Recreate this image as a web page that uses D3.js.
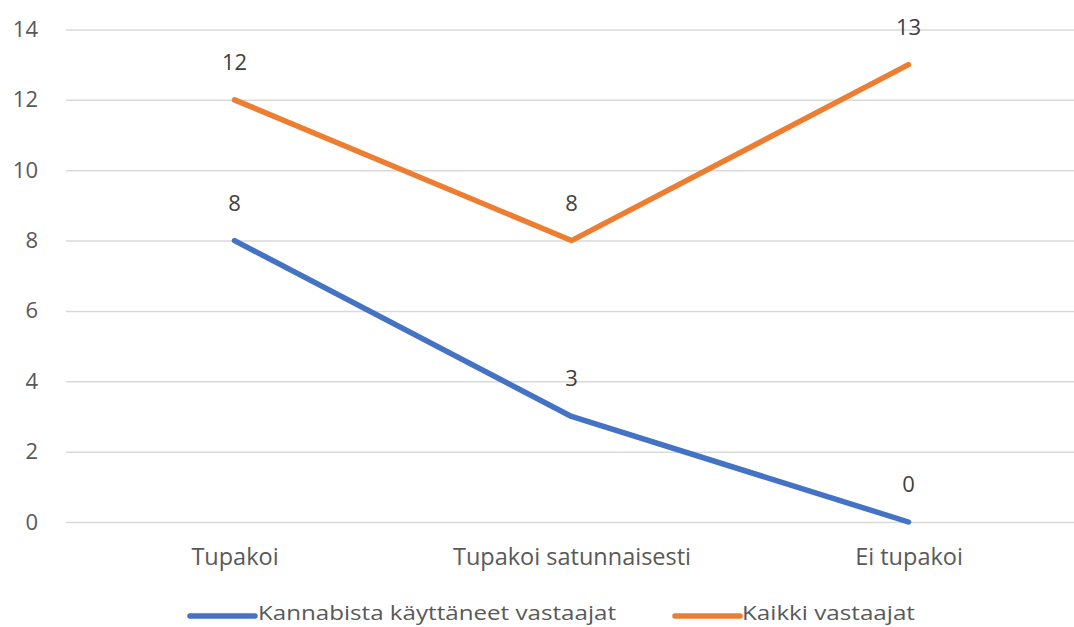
<!DOCTYPE html>
<html><head><meta charset="utf-8">
<script src="https://cdn.jsdelivr.net/npm/d3@7"></script>
<style>body{margin:0;background:#fff;overflow:hidden}</style>
</head><body>
<svg id="c" width="1074" height="627"></svg>
<script>
const categories = ["Tupakoi", "Tupakoi satunnaisesti", "Ei tupakoi"];
const seriesNames = ["Kannabista käyttäneet vastaajat", "Kaikki vastaajat"];
const cannabisValues = [8, 3, 0];
const allValues = [12, 8, 13];
const yTicks = [0, 2, 4, 6, 8, 10, 12, 14];
const colors = ["#4472C4", "#ED7D31"];

(function () {
const svg = d3.select("#c");
const mLeft = 66, mRight = 1077, mTop = 29.5, mBottom = 522;
const font = "'Open Sans', 'Noto Sans', sans-serif";
const textColor = "#595959";

const x = d3.scalePoint().domain(categories).range([mLeft, mRight]).padding(0.5);
const y = d3.scaleLinear().domain([0, 14]).range([mBottom, mTop]);

const yAxis = d3.axisLeft(y).tickValues(yTicks).tickSize(-(1074 - mLeft)).tickPadding(28);
const gy = svg.append("g").attr("transform", `translate(${mLeft},0)`).call(yAxis);
gy.select(".domain").remove();
gy.selectAll(".tick line").attr("stroke", "#d9d9d9").attr("stroke-width", 1.5);
gy.selectAll(".tick text").attr("fill", textColor).style("font-family", font).style("font-size", "22px");

const xAxis = d3.axisBottom(x).tickSize(0).tickPadding(26);
const gx = svg.append("g").attr("transform", `translate(0,${mBottom})`).call(xAxis);
gx.select(".domain").remove();
gx.selectAll(".tick text").attr("fill", textColor).style("font-family", font).style("font-size", "23.5px");

const series = [cannabisValues, allValues];
const line = d3.line().x((d, i) => x(categories[i])).y(d => y(d));
series.forEach((vals, si) => {
  svg.append("path").datum(vals).attr("d", line)
    .attr("fill", "none").attr("stroke", colors[si]).attr("stroke-width", 5.5)
    .attr("stroke-linecap", "round").attr("stroke-linejoin", "round");
  svg.selectAll(null).data(vals).enter().append("text")
    .attr("x", (d, i) => x(categories[i]))
    .attr("y", d => y(d) - 30)
    .attr("text-anchor", "middle")
    .attr("fill", "#404040")
    .style("font-family", font).style("font-size", "22px")
    .text(d => d);
});

const legendItems = [
  {x0: 190, x1: 255, tx: 258, tl: 358},
  {x0: 675, x1: 740, tx: 742, tl: 173}
];
legendItems.forEach((it, i) => {
  svg.append("line").attr("x1", it.x0).attr("x2", it.x1).attr("y1", 616).attr("y2", 616)
    .attr("stroke", colors[i]).attr("stroke-width", 5.5).attr("stroke-linecap", "round");
  svg.append("text").attr("x", it.tx).attr("y", 620)
    .attr("fill", textColor).style("font-family", font).style("font-size", "20px")
    .attr("textLength", it.tl).attr("lengthAdjust", "spacingAndGlyphs")
    .text(seriesNames[i]);
});
})();
</script>
</body></html>
